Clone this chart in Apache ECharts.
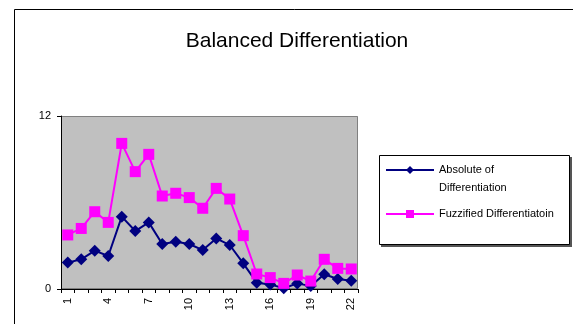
<!DOCTYPE html>
<html><head><meta charset="utf-8">
<script src="https://cdn.jsdelivr.net/npm/echarts@6/dist/echarts.min.js"></script>
<style>html,body{margin:0;padding:0;background:#fff}#c{width:573px;height:324px}</style>
</head><body><div id="c"></div>
<script>
const categories = ['1','2','3','4','5','6','7','8','9','10','11','12','13','14','15','16','17','18','19','20','21','22'];
const absoluteValues = [1.83,2.06,2.66,2.29,5.02,4.02,4.62,3.12,3.28,3.12,2.7,3.51,3.05,1.78,0.44,0.32,0.05,0.39,0.2,1.02,0.69,0.58];
const fuzzifiedValues = [3.75,4.2,5.36,4.62,10.1,8.14,9.34,6.45,6.64,6.34,5.6,6.98,6.24,3.7,1.04,0.79,0.39,0.97,0.55,2.06,1.43,1.39];
const yTicks = [0, 12];
const seriesNames = ['Absolute of\nDifferentiation', 'Fuzzified Differentiatoin'];

const chart = echarts.init(document.getElementById('c'), null, {renderer:'canvas'});
const font = 'Liberation Sans, Arial, sans-serif';
chart.setOption({
  animation: false,
  backgroundColor: '#fff',
  title: {
    text: 'Balanced Differentiation', left: 292, top: 26, textAlign: 'center',
    textStyle: {fontFamily: font, fontSize: 21, fontWeight: 'normal', color: '#000'}
  },
  graphic: [{
    type: 'rect', shape: {x: 14.5, y: 9.5, width: 580, height: 330},
    style: {fill: 'none', stroke: '#000', lineWidth: 1}, silent: true
  }, {
    type: 'rect', shape: {x: 61.5, y: 116.5, width: 296, height: 172},
    style: {fill: 'none', stroke: '#808080', lineWidth: 1}, silent: true, z: 0
  }, {
    type: 'rect', shape: {x: 381, y: 157, width: 191, height: 90},
    style: {fill: '#555', stroke: 'none'}, silent: true, z: 0
  }, {
    type: 'rect', shape: {x: 379.5, y: 155.5, width: 190, height: 89},
    style: {fill: '#fff', stroke: '#000', lineWidth: 1}, silent: true, z: 1
  }],
  legend: {
    orient: 'vertical', left: 385, top: 143, padding: 0, itemGap: 8, itemWidth: 48, itemHeight: 10,
    z: 5,
    textStyle: {fontFamily: font, fontSize: 11, color: '#000', lineHeight: 18},
    formatter: function (name) { return name.indexOf('\n') >= 0 ? ' \n' + name : name; },
    data: seriesNames
  },
  grid: {left: 61, right: 215, top: 116, bottom: 35, show: true, backgroundColor: '#c0c0c0', borderWidth: 0},
  xAxis: {
    type: 'category', data: categories, boundaryGap: true,
    axisLine: {lineStyle: {color: '#000', width: 1}},
    axisTick: {show: true, interval: 0, length: 4, lineStyle: {color: '#000'}},
    axisLabel: {interval: 2, rotate: 90, fontFamily: font, fontSize: 11, color: '#000', margin: 9}
  },
  yAxis: {
    type: 'value', min: yTicks[0], max: yTicks[1], interval: 12,
    splitLine: {show: false},
    axisLine: {show: true, lineStyle: {color: '#000'}},
    axisTick: {show: true, length: 4, lineStyle: {color: '#000'}},
    axisLabel: {fontFamily: font, fontSize: 11, color: '#000', margin: 10}
  },
  series: [{
    name: seriesNames[0], type: 'line', data: absoluteValues,
    symbol: 'diamond', symbolSize: 12, showAllSymbol: true,
    lineStyle: {color: '#000080', width: 2}, itemStyle: {color: '#000080'}
  }, {
    name: seriesNames[1], type: 'line', data: fuzzifiedValues,
    symbol: 'rect', symbolSize: 11, showAllSymbol: true,
    lineStyle: {color: '#ff00ff', width: 2}, itemStyle: {color: '#ff00ff'}
  }]
});
</script></body></html>
